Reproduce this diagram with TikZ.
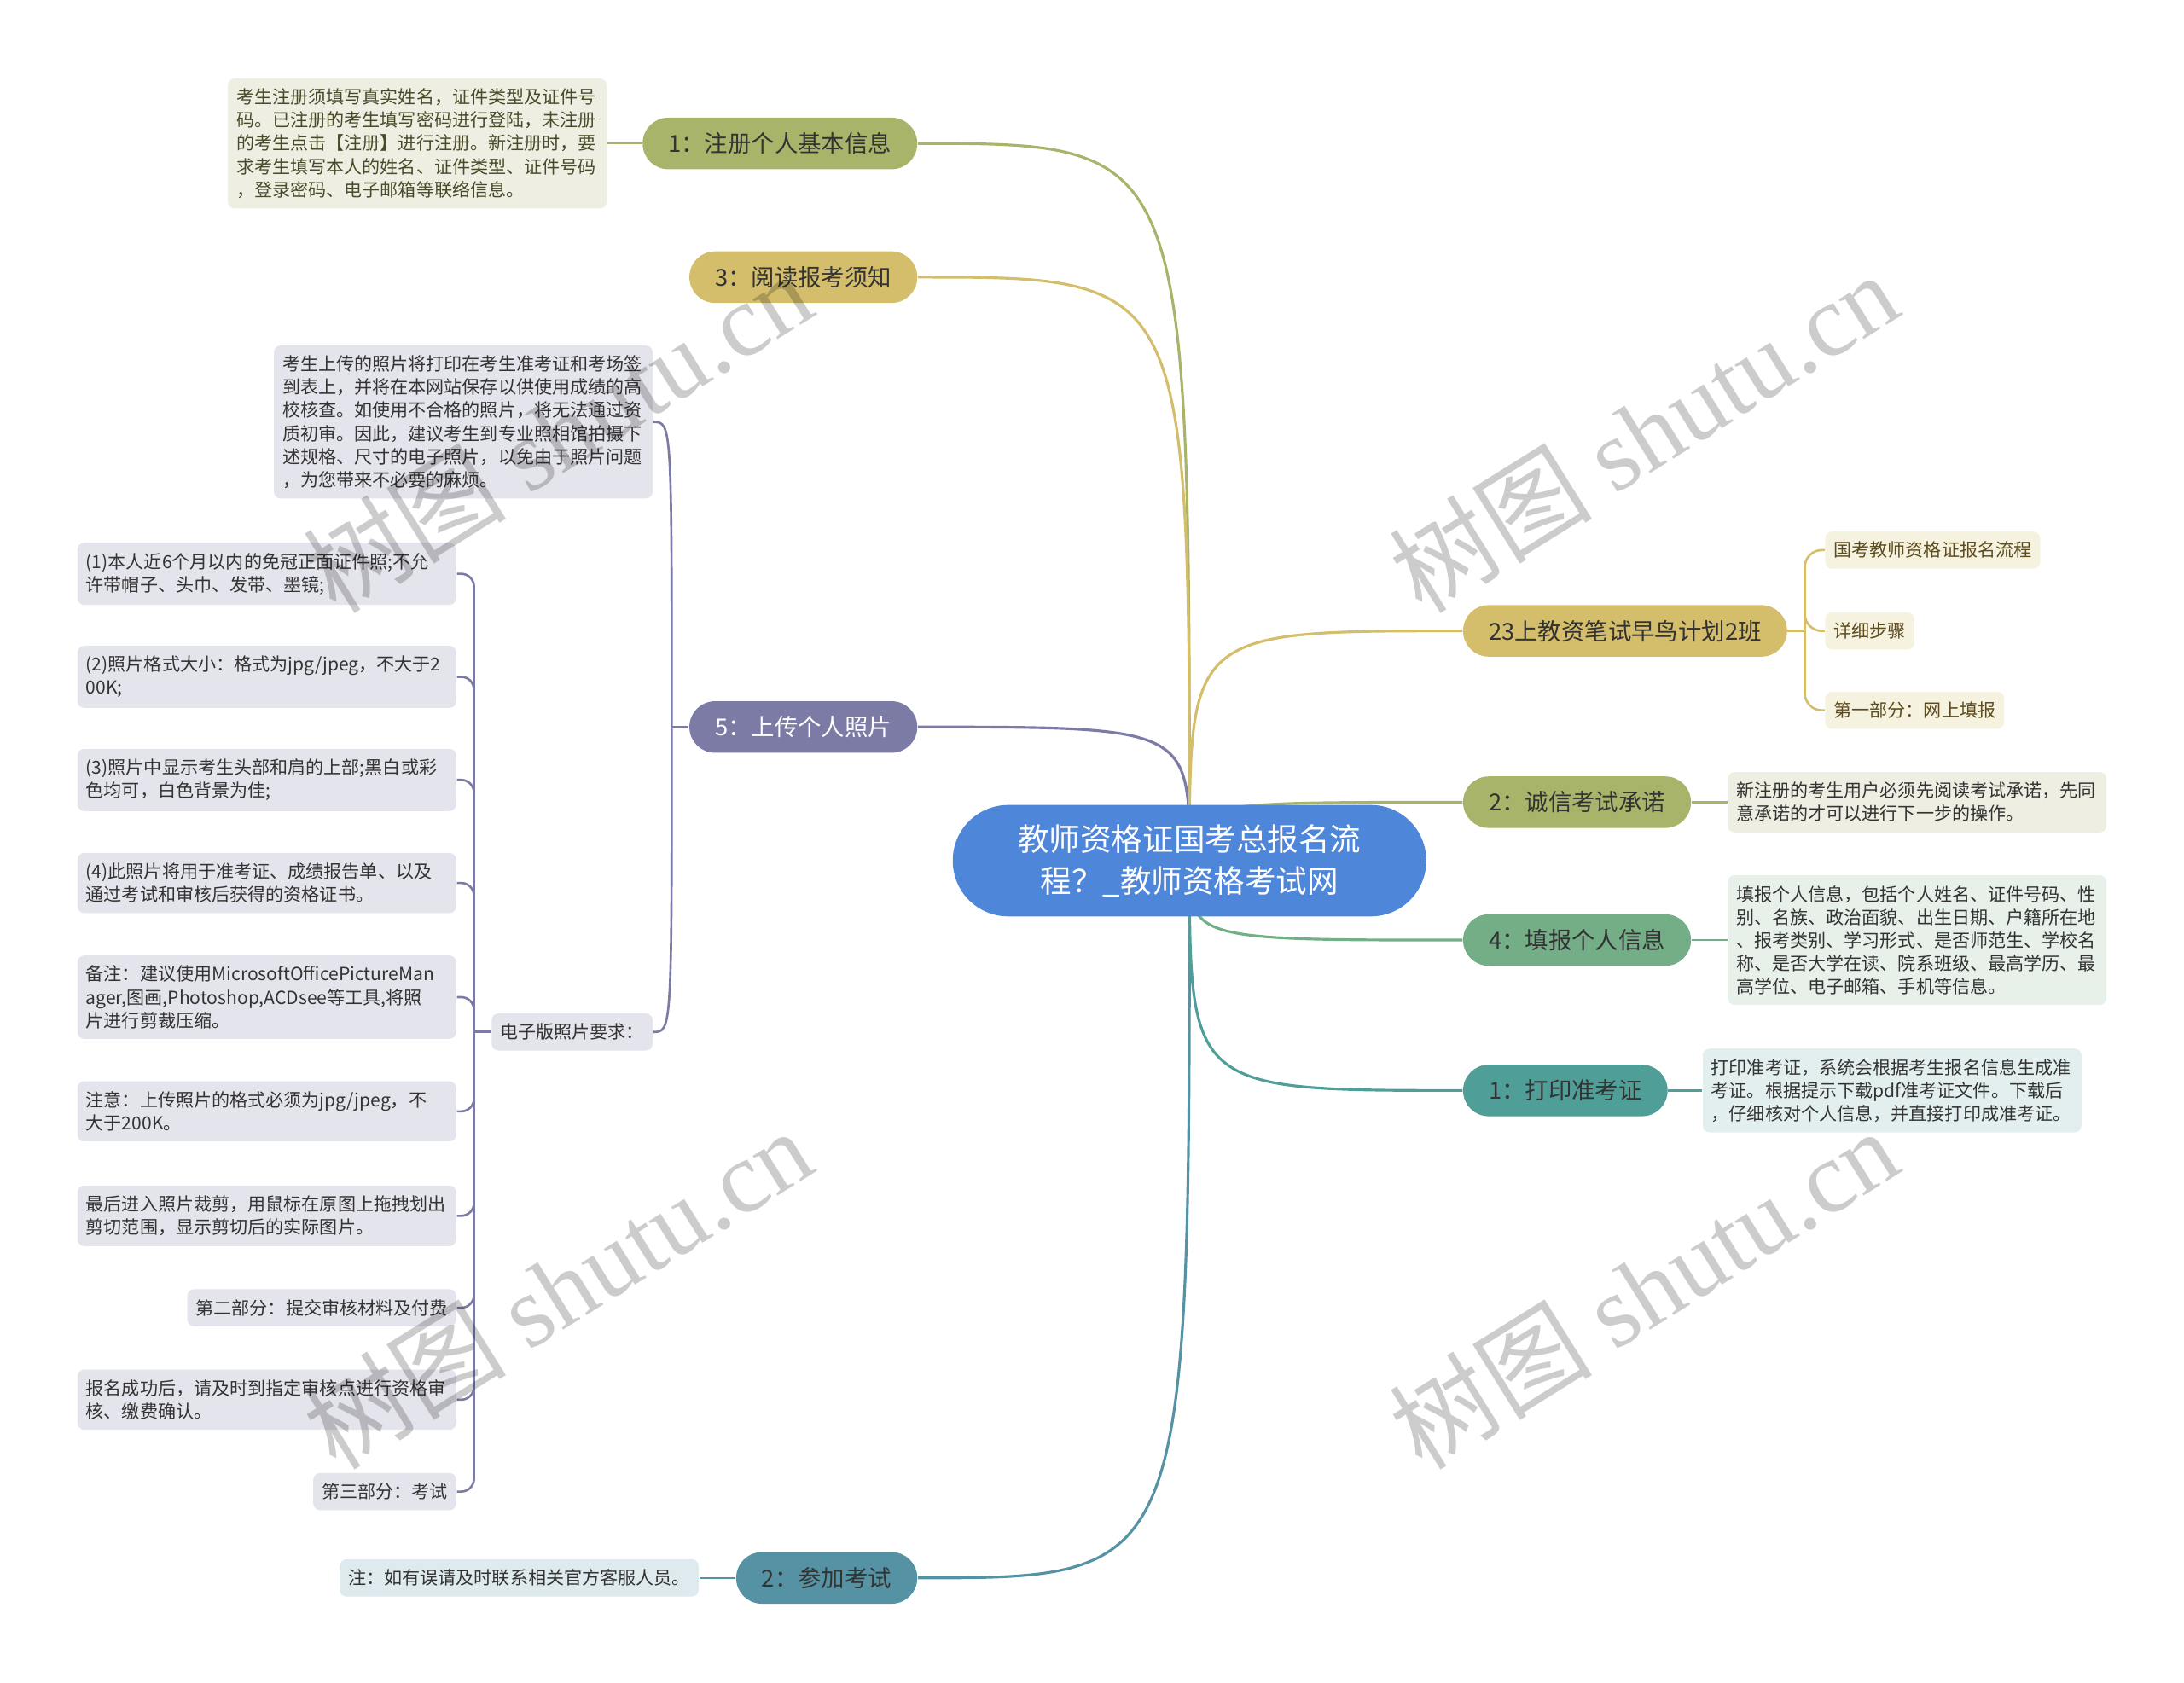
\documentclass[tikz,border=0pt]{standalone}
\usepackage{fontspec}
\setmainfont{Noto Sans CJK SC}
\newfontfamily\wmlatin{Liberation Serif}
\usetikzlibrary{backgrounds}

\definecolor{rootblue}{HTML}{4E86D9}
\definecolor{cOlive}{HTML}{A9B46B}
\definecolor{cGold}{HTML}{D4BD6B}
\definecolor{cLilac}{HTML}{7B7BA6}
\definecolor{cSteel}{HTML}{5592A3}
\definecolor{cJade}{HTML}{73AE87}
\definecolor{cTeal}{HTML}{4F9F98}
\definecolor{lOlive}{HTML}{EEEFE2}
\definecolor{lGold}{HTML}{F6F2E0}
\definecolor{lLilac}{HTML}{E4E4EC}
\definecolor{lSteel}{HTML}{DEEAED}
\definecolor{lJade}{HTML}{E7F1EA}
\definecolor{lTeal}{HTML}{E3EFEE}
\definecolor{darktext}{HTML}{333333}
\definecolor{olivetext}{HTML}{4A4A2A}
\definecolor{goldtext}{HTML}{5C4B1C}

\tikzset{
  root/.style={fill=rootblue, text=white, rounded corners=0.65cm, minimum width=5.55cm,
    minimum height=1.306cm, align=center, font=\fontsize{10.4}{13.9}\selectfont},
  branch/.style={rounded corners=0.3cm, minimum height=0.604cm, inner xsep=0.3cm,
    inner ysep=0pt, text=darktext, font=\fontsize{7.8}{9}\selectfont},
  leaf/.style={rounded corners=0.08cm, inner xsep=0.1cm, inner ysep=0.12cm, align=left,
    text=darktext, font=\fontsize{6}{7.7}\selectfont},
  wide/.style={leaf, text width=4.24cm},
  link/.style={line width=0.9pt},
  sublink/.style={line width=0.75pt},
  wmark/.style={text=black, text opacity=0.2, rotate=32, font=\fontsize{34}{34}\selectfont}
}

\begin{document}
\begin{tikzpicture}[x=0.016327cm, y=-0.016327cm]
\useasboundingbox (0,0) rectangle (1568,1208);

\node[root] (root) at (854,618) {教师资格证国考总报名流\\程？\_教师资格考试网};

% left side
\node[branch, fill=cOlive, anchor=east] (b1) at (659,103) {1：注册个人基本信息};
\node[branch, fill=cGold, anchor=east] (b3) at (659,199) {3：阅读报考须知};
\node[branch, fill=cLilac, text=white, anchor=east] (b5) at (659,522) {5：上传个人照片};
\node[branch, fill=cSteel, anchor=east] (b2) at (659,1133) {2：参加考试};

\node[wide, fill=lOlive, text=olivetext, anchor=east] (n1reg) at (436,103) {考生注册须填写真实姓名，证件类型及证件号\\码。已注册的考生填写密码进行登陆，未注册\\的考生点击【注册】进行注册。新注册时，要\\求考生填写本人的姓名、证件类型、证件号码\\，登录密码、电子邮箱等联络信息。};

\node[wide, fill=lLilac, anchor=east] (n5a) at (469,303) {考生上传的照片将打印在考生准考证和考场签\\到表上，并将在本网站保存以供使用成绩的高\\校核查。如使用不合格的照片，将无法通过资\\质初审。因此，建议考生到专业照相馆拍摄下\\述规格、尺寸的电子照片，以免由于照片问题\\，为您带来不必要的麻烦。};
\node[leaf, fill=lLilac, anchor=east] (dz) at (469,741) {电子版照片要求：};

\node[wide, fill=lLilac, anchor=east] (p1) at (328,412) {(1)本人近6个月以内的免冠正面证件照;不允\\许带帽子、头巾、发带、墨镜;};
\node[wide, fill=lLilac, anchor=east] (p2) at (328,486) {(2)照片格式大小：格式为jpg/jpeg，不大于2\\00K;};
\node[wide, fill=lLilac, anchor=east] (p3) at (328,560) {(3)照片中显示考生头部和肩的上部;黑白或彩\\色均可，白色背景为佳;};
\node[wide, fill=lLilac, anchor=east] (p4) at (328,634) {(4)此照片将用于准考证、成绩报告单、以及\\通过考试和审核后获得的资格证书。};
\node[wide, fill=lLilac, anchor=east] (p5) at (328,716) {备注：建议使用MicrosoftOfficePictureMan\\ager,图画,Photoshop,ACDsee等工具,将照\\片进行剪裁压缩。};
\node[wide, fill=lLilac, anchor=east] (p6) at (328,798) {注意：上传照片的格式必须为jpg/jpeg，不\\大于200K。};
\node[wide, fill=lLilac, anchor=east] (p7) at (328,873) {最后进入照片裁剪，用鼠标在原图上拖拽划出\\剪切范围，显示剪切后的实际图片。};
\node[leaf, fill=lLilac, anchor=east] (p8) at (328,939) {第二部分：提交审核材料及付费};
\node[wide, fill=lLilac, anchor=east] (p9) at (328,1005) {报名成功后，请及时到指定审核点进行资格审\\核、缴费确认。};
\node[leaf, fill=lLilac, anchor=east] (p10) at (328,1071) {第三部分：考试};

\node[leaf, fill=lSteel, anchor=east] (n2exam) at (502,1133) {注：如有误请及时联系相关官方客服人员。};

% right side
\node[branch, fill=cGold, anchor=west] (r23) at (1050,453) {23上教资笔试早鸟计划2班};
\node[branch, fill=cOlive, anchor=west] (r2) at (1050,576) {2：诚信考试承诺};
\node[branch, fill=cJade, anchor=west] (r4) at (1050,675) {4：填报个人信息};
\node[branch, fill=cTeal, anchor=west] (r1) at (1050,783) {1：打印准考证};

\node[leaf, fill=lGold, text=goldtext, anchor=west] (c1) at (1310,395) {国考教师资格证报名流程};
\node[leaf, fill=lGold, text=goldtext, anchor=west] (c2) at (1310,453) {详细步骤};
\node[leaf, fill=lGold, text=goldtext, anchor=west] (c3) at (1310,510) {第一部分：网上填报};

\node[wide, fill=lOlive, anchor=west] (n2prom) at (1240,576) {新注册的考生用户必须先阅读考试承诺，先同\\意承诺的才可以进行下一步的操作。};
\node[wide, fill=lJade, anchor=west] (n4info) at (1240,675) {填报个人信息，包括个人姓名、证件号码、性\\别、名族、政治面貌、出生日期、户籍所在地\\、报考类别、学习形式、是否师范生、学校名\\称、是否大学在读、院系班级、最高学历、最\\高学位、电子邮箱、手机等信息。};
\node[wide, fill=lTeal, anchor=west] (n1print) at (1222,783) {打印准考证，系统会根据考生报名信息生成准\\考证。根据提示下载pdf准考证文件。下载后\\，仔细核对个人信息，并直接打印成准考证。};

\coordinate (t5) at ([xshift=-0.2cm]b5.west);
\coordinate (tz) at ([xshift=-0.2cm]dz.west);
\coordinate (t23) at ([xshift=0.2cm]r23.east);

\begin{scope}[on background layer]
\draw[link, cOlive] (root.center) .. controls (root.center |- b1.east) .. (b1.east);
\draw[link, cGold] (root.center) .. controls (root.center |- b3.east) .. (b3.east);
\draw[link, cLilac] (root.center) .. controls (root.center |- b5.east) .. (b5.east);
\draw[link, cSteel] (root.center) .. controls (root.center |- b2.east) .. (b2.east);
\draw[link, cGold] (root.center) .. controls (root.center |- r23.west) .. (r23.west);
\draw[link, cOlive] (root.center) .. controls (root.center |- r2.west) .. (r2.west);
\draw[link, cJade] (root.center) .. controls (root.center |- r4.west) .. (r4.west);
\draw[link, cTeal] (root.center) .. controls (root.center |- r1.west) .. (r1.west);

\draw[sublink, cOlive] (b1.west) -- (n1reg.east);
\draw[sublink, cSteel] (b2.west) -- (n2exam.east);
\draw[sublink, cOlive] (r2.east) -- (n2prom.west);
\draw[sublink, cJade] (r4.east) -- (n4info.west);
\draw[sublink, cTeal] (r1.east) -- (n1print.west);

\draw[sublink, cLilac] (b5.west) -- (t5);
\draw[sublink, cLilac] (t5) .. controls (t5 |- n5a.east) .. (n5a.east);
\draw[sublink, cLilac] (t5) .. controls (t5 |- dz.east) .. (dz.east);

\draw[sublink, cLilac] (dz.west) -- (tz);
\foreach \p in {p1,p2,p3,p4,p5,p6,p7,p8,p9,p10}
  \draw[sublink, cLilac, rounded corners=0.15cm] (tz) |- (\p.east);

\draw[sublink, cGold] (r23.east) -- (t23);
\foreach \c in {c1,c2,c3}
  \draw[sublink, cGold, rounded corners=0.2cm] (t23) |- (\c.west);
\end{scope}

% watermark
\node[wmark] (wm1) at (400,310) {树图 {\wmlatin shutu.cn}};
\node[wmark] (wm2) at (1180,310) {树图 {\wmlatin shutu.cn}};
\node[wmark] (wm3) at (400,925) {树图 {\wmlatin shutu.cn}};
\node[wmark] (wm4) at (1180,925) {树图 {\wmlatin shutu.cn}};
\end{tikzpicture}
\end{document}
